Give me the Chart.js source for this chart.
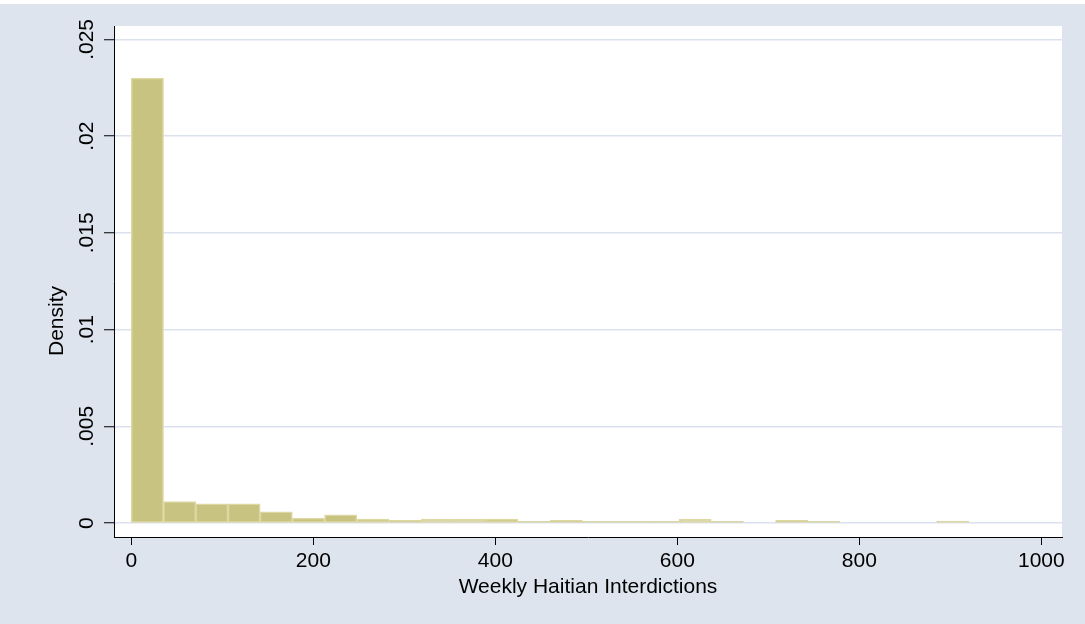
<!DOCTYPE html>
<html>
<head>
<meta charset="utf-8">
<title>Weekly Haitian Interdictions</title>
<script src="https://cdn.jsdelivr.net/npm/chart.js@4/dist/chart.umd.min.js"></script>
<style>
  html, body { margin: 0; padding: 0; background: #dee4ee; }
  #wrap { width: 1085px; height: 624px; position: relative; }
  canvas { display: block; }
</style>
</head>
<body>
<div id="wrap"><canvas id="hist" width="1085" height="624"></canvas></div>
<script>
// Histogram bins: first edge, width and the density of each bin
const binStart = 0;
const binWidth = 35.4;
const densities = [
  0.0230, 0.00111, 0.00100, 0.00100, 0.00058, 0.00026, 0.00043, 0.00021,
  0.00014, 0.00019, 0.00019, 0.00021, 0.00009, 0.00014, 0.00009, 0.00009,
  0.00009, 0.00019, 0.00009, 0, 0.00014, 0.00009, 0, 0, 0, 0.00010
];

// Axis ticks and labels
const xTicks = [0, 200, 400, 600, 800, 1000];
const yTicks = [0, 0.005, 0.01, 0.015, 0.02, 0.025];
const yTickLabels = ['0', '.005', '.01', '.015', '.02', '.025'];
const xTitle = 'Weekly Haitian Interdictions';
const yTitle = 'Density';

const FONT_FAMILY = '"Liberation Sans", Arial, Helvetica, sans-serif';
const FONT_SIZE = 21;
const REGION_BG = '#dee4ee';
const PLOT_BG = '#ffffff';
const GRID = '#dbe2ee';
const BAR_FILL = '#c9c381';
const BAR_EDGE = '#ddd8a3';

const points = densities.map((d, i) => ({ x: binStart + (i + 0.5) * binWidth, y: d }));

// Graph region and plot region backgrounds, plus the rotated y labels and axis titles
const stataFrame = {
  id: 'stataFrame',
  beforeDraw(chart) {
    const { ctx, chartArea: a } = chart;
    ctx.save();
    ctx.fillStyle = REGION_BG;
    ctx.fillRect(0, 0, chart.width, chart.height);
    ctx.fillStyle = '#ffffff';
    ctx.fillRect(0, 0, chart.width, 4);
    ctx.fillStyle = PLOT_BG;
    ctx.fillRect(a.left, a.top, a.right - a.left, a.bottom - a.top);
    ctx.restore();
  },
  afterDraw(chart) {
    const { ctx, chartArea: a } = chart;
    const ys = chart.scales.y;
    ctx.save();
    ctx.fillStyle = '#000';
    ctx.font = FONT_SIZE + 'px ' + FONT_FAMILY;
    ctx.textAlign = 'center';
    ctx.textBaseline = 'alphabetic';
    yTicks.forEach((v, i) => {
      const py = ys.getPixelForValue(v);
      ctx.save();
      ctx.translate(93, py);
      ctx.rotate(-Math.PI / 2);
      ctx.fillText(yTickLabels[i], 0, 0);
      ctx.restore();
    });
    // y title
    ctx.save();
    ctx.translate(63, 321);
    ctx.rotate(-Math.PI / 2);
    ctx.fillText(yTitle, 0, 0);
    ctx.restore();
    // x title
    ctx.fillText(xTitle, (a.left + a.right) / 2, 593);
    ctx.restore();
  }
};

new Chart(document.getElementById('hist'), {
  type: 'bar',
  data: {
    datasets: [{
      data: points,
      backgroundColor: BAR_FILL,
      borderColor: BAR_EDGE,
      borderWidth: 1.5,
      borderSkipped: false,
      barPercentage: 1,
      categoryPercentage: 1,
      grouped: false
    }]
  },
  options: {
    responsive: false,
    animation: false,
    devicePixelRatio: 1,
    layout: { padding: { left: 104, right: 23, top: 26, bottom: 45.8 } },
    plugins: { legend: { display: false }, tooltip: { enabled: false }, title: { display: false } },
    scales: {
      x: {
        type: 'linear',
        offset: false,
        min: -19,
        max: 1022.7,
        afterBuildTicks: s => { s.ticks = xTicks.map(v => ({ value: v })); },
        grid: { display: true, offset: false, drawOnChartArea: false, drawTicks: true, tickLength: 8, tickColor: '#000', tickWidth: 1 },
        border: { display: true, color: '#000', width: 1 },
        ticks: {
          color: '#000',
          padding: 4,
          maxRotation: 0,
          minRotation: 0,
          autoSkip: false,
          font: { family: FONT_FAMILY, size: FONT_SIZE },
          callback: v => String(v)
        }
      },
      y: {
        type: 'linear',
        min: -0.000718,
        max: 0.025692,
        afterBuildTicks: s => { s.ticks = yTicks.map(v => ({ value: v })); },
        grid: { display: true, color: GRID, lineWidth: 1.5, drawOnChartArea: true, drawTicks: true, tickLength: 10, tickColor: '#000', tickWidth: 1 },
        border: { display: true, color: '#000', width: 1 },
        ticks: { display: false }
      }
    }
  },
  plugins: [stataFrame]
});
</script>
</body>
</html>
